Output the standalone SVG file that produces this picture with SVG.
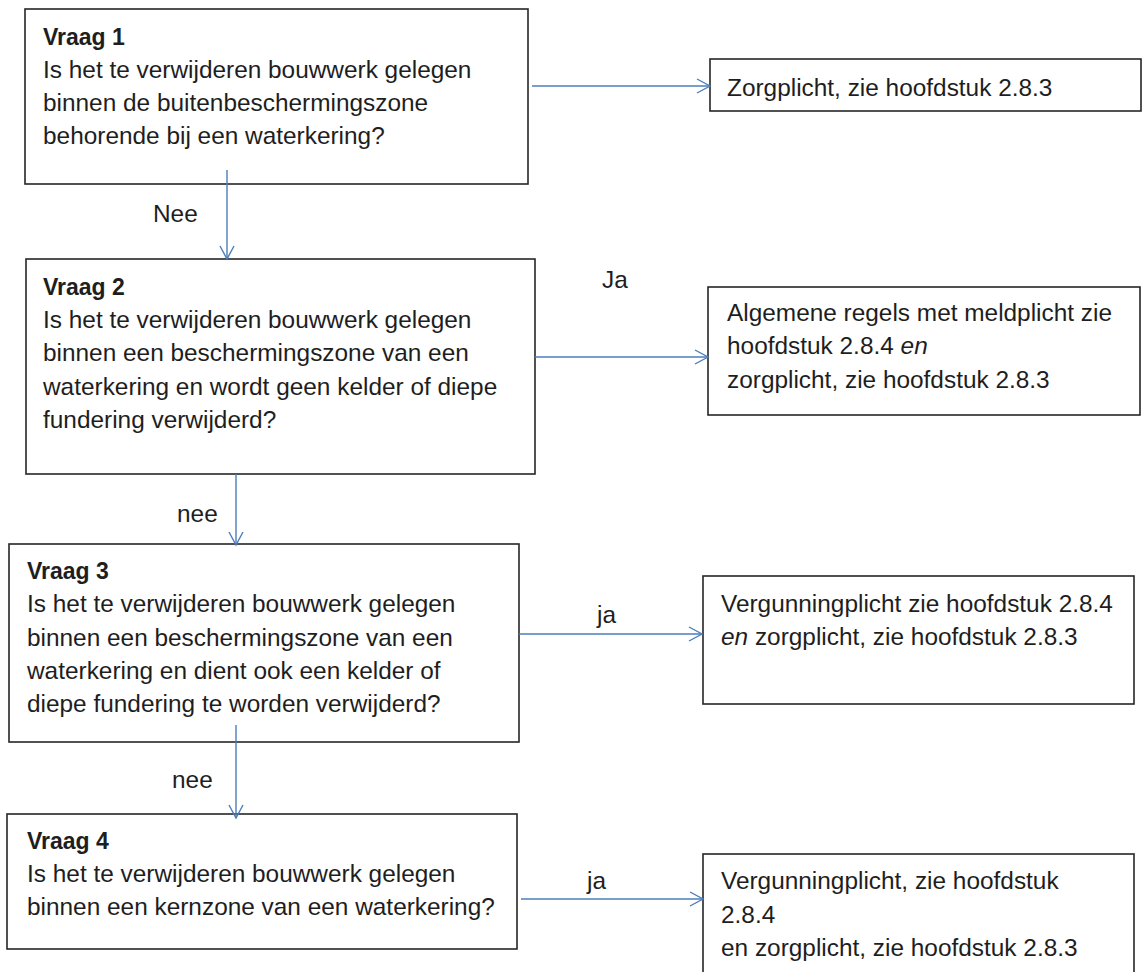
<svg xmlns="http://www.w3.org/2000/svg" width="1142" height="972" viewBox="0 0 1142 972">
<style>
  .box { fill: #ffffff; stroke: #262626; stroke-width: 1.6; }
  .t { font-family: "Liberation Sans", Arial, sans-serif; font-size: 24.4px; fill: #1e1e1e; }
  .b { font-weight: bold; font-size: 23px; }
  .i { font-style: italic; }
  .conn { stroke: #4a7ebb; stroke-width: 1.4; fill: none; marker-end: url(#arr); }
</style>
<defs>
  <marker id="arr" markerUnits="userSpaceOnUse" markerWidth="16" markerHeight="18" refX="14" refY="8" orient="auto">
    <path d="M1,1 L14,8 L1,15" fill="none" stroke="#4a7ebb" stroke-width="1.4"/>
  </marker>
</defs>
<rect width="1142" height="972" fill="#ffffff"/>

<g id="vraag1">
  <rect class="box" x="25" y="9" width="503" height="175"/>
  <text class="t b" x="43" y="45">Vraag 1</text>
  <text class="t" x="43" y="78">Is het te verwijderen bouwwerk gelegen</text>
  <text class="t" x="43" y="111">binnen de buitenbeschermingszone</text>
  <text class="t" x="43" y="144">behorende bij een waterkering?</text>
</g>

<g id="zorgplicht">
  <rect class="box" x="710" y="59" width="431" height="52"/>
  <text class="t" x="727" y="96">Zorgplicht, zie hoofdstuk 2.8.3</text>
</g>

<g id="vraag2">
  <rect class="box" x="26" y="259" width="509" height="215"/>
  <text class="t b" x="43" y="295">Vraag 2</text>
  <text class="t" x="43" y="328">Is het te verwijderen bouwwerk gelegen</text>
  <text class="t" x="43" y="361">binnen een beschermingszone van een</text>
  <text class="t" x="43" y="395">waterkering en wordt geen kelder of diepe</text>
  <text class="t" x="43" y="428">fundering verwijderd?</text>
</g>

<g id="algemene">
  <rect class="box" x="708" y="287" width="432" height="128"/>
  <text class="t" x="727" y="321">Algemene regels met meldplicht zie</text>
  <text class="t" x="727" y="354">hoofdstuk 2.8.4 <tspan class="i">en</tspan></text>
  <text class="t" x="727" y="388">zorgplicht, zie hoofdstuk 2.8.3</text>
</g>

<g id="vraag3">
  <rect class="box" x="9" y="544" width="510" height="198"/>
  <text class="t b" x="27" y="579">Vraag 3</text>
  <text class="t" x="27" y="612">Is het te verwijderen bouwwerk gelegen</text>
  <text class="t" x="27" y="646">binnen een beschermingszone van een</text>
  <text class="t" x="27" y="679">waterkering en dient ook een kelder of</text>
  <text class="t" x="27" y="712">diepe fundering te worden verwijderd?</text>
</g>

<g id="vergunning1">
  <rect class="box" x="703" y="576" width="431" height="128"/>
  <text class="t" x="721" y="612">Vergunningplicht zie hoofdstuk 2.8.4</text>
  <text class="t" x="721" y="645"><tspan class="i">en</tspan> zorgplicht, zie hoofdstuk 2.8.3</text>
</g>

<g id="vraag4">
  <rect class="box" x="7" y="814" width="510" height="135"/>
  <text class="t b" x="27" y="849">Vraag 4</text>
  <text class="t" x="27" y="882">Is het te verwijderen bouwwerk gelegen</text>
  <text class="t" x="27" y="915">binnen een kernzone van een waterkering?</text>
</g>

<g id="vergunning2">
  <rect class="box" x="703" y="854" width="431" height="130"/>
  <text class="t" x="721" y="889">Vergunningplicht, zie hoofdstuk</text>
  <text class="t" x="721" y="923">2.8.4</text>
  <text class="t" x="721" y="956">en zorgplicht, zie hoofdstuk 2.8.3</text>
</g>

<g id="connectors">
  <line class="conn" x1="532" y1="86" x2="710" y2="86"/>
  <line class="conn" x1="227" y1="170" x2="227" y2="259"/>
  <line class="conn" x1="535" y1="357" x2="708" y2="357"/>
  <line class="conn" x1="236" y1="474" x2="236" y2="545"/>
  <line class="conn" x1="519" y1="634" x2="702" y2="634"/>
  <line class="conn" x1="236" y1="725" x2="236" y2="818"/>
  <line class="conn" x1="521" y1="899" x2="703" y2="899"/>
</g>

<g id="labels">
  <text class="t" x="153" y="222">Nee</text>
  <text class="t" x="602" y="288">Ja</text>
  <text class="t" x="177" y="522">nee</text>
  <text class="t" x="597" y="623">ja</text>
  <text class="t" x="172" y="788">nee</text>
  <text class="t" x="587" y="889">ja</text>
</g>
</svg>
